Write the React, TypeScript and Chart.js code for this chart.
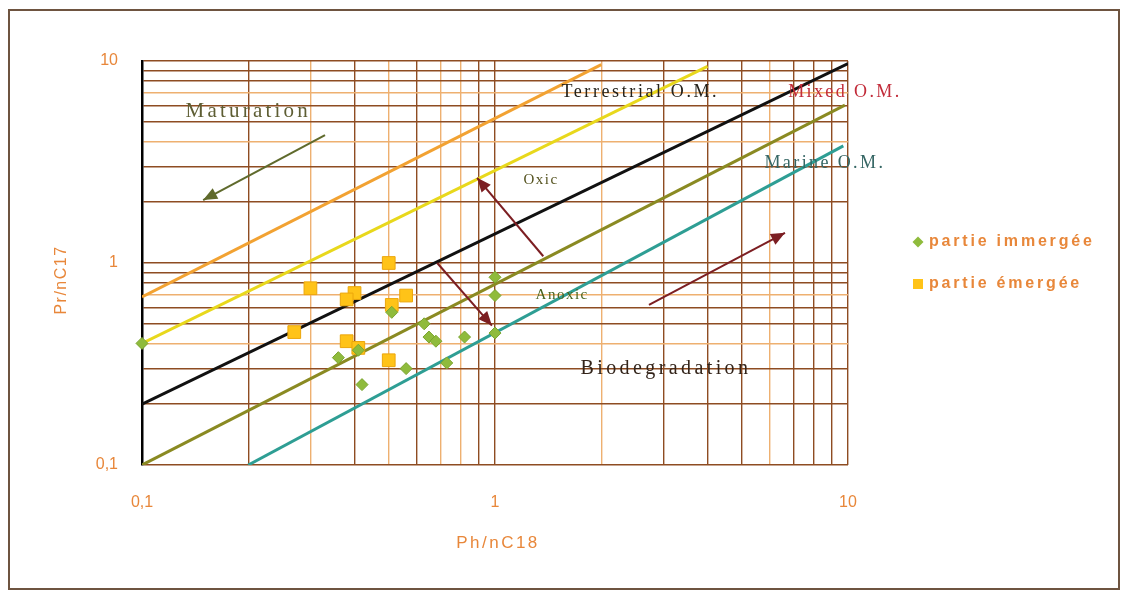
import React, { useEffect, useRef } from "react";
import { Chart, registerables } from "chart.js";

Chart.register(...registerables);

// ---------- data ----------
const immergeeX = [0.1, 0.36, 0.41, 0.42, 0.51, 0.56, 0.63, 0.65, 0.68, 0.73, 0.82, 1.0, 1.0, 1.0];
const immergeeY = [0.4, 0.34, 0.37, 0.25, 0.57, 0.3, 0.5, 0.43, 0.41, 0.32, 0.43, 0.85, 0.69, 0.45];

const emergeeX = [0.5, 0.3, 0.4, 0.38, 0.56, 0.51, 0.27, 0.38, 0.41, 0.5];
const emergeeY = [1.0, 0.75, 0.71, 0.66, 0.69, 0.62, 0.455, 0.41, 0.38, 0.33];

// reference lines (start, end)
const terrestrialX = [0.1, 2];
const terrestrialY = [0.68, 9.6];
const terrestrial2X = [0.1, 4];
const terrestrial2Y = [0.4, 9.4];
const mixedX = [0.1, 10];
const mixedY = [0.2, 9.7];
const anoxicX = [0.1, 9.8];
const anoxicY = [0.1, 6.05];
const marineX = [0.2, 9.7];
const marineY = [0.1, 3.8];

// arrows (tail, head)
const oxicArrowX = [1.37, 0.89];
const oxicArrowY = [1.08, 2.64];
const anoxicArrowX = [0.686, 0.98];
const anoxicArrowY = [1.0, 0.49];
const biodegArrowX = [2.73, 6.63];
const biodegArrowY = [0.62, 1.41];
const maturationArrowX = [0.33, 0.149];
const maturationArrowY = [4.3, 2.05];

// annotation texts
const noteLabels = ["Maturation", "Terrestrial O.M.", "Mixed O.M.", "Oxic", "Anoxic", "Marine O.M.", "Biodegradation"];
const noteX = [0.2, 2.58, 9.8, 1.35, 1.55, 8.6, 3.05];
const noteY = [5.6, 7.0, 7.0, 2.58, 0.69, 3.13, 0.3];

// ticks
const xTickValues = [0.1, 1, 10];
const xTickLabels = ["0,1", "1", "10"];
const yTickValues = [0.1, 1, 10];
const yTickLabels = ["0,1", "1", "10"];

const xTitle = "Ph/nC18";
const yTitle = "Pr/nC17";

// ---------- styles ----------
const noteStyles = [
  { color: "#5e5e34", size: 21, spacing: 3.2 },
  { color: "#24221c", size: 18, spacing: 2.6 },
  { color: "#c22c3a", size: 18, spacing: 2.4 },
  { color: "#54521e", size: 15, spacing: 1.5 },
  { color: "#46621c", size: 15, spacing: 1.5 },
  { color: "#356664", size: 18, spacing: 2.4 },
  { color: "#33241a", size: 20, spacing: 3.4 },
];

const ORANGE_TXT = "#e8873a";
const DARK_GRID = "#8e4c22";
const LIGHT_GRID = "#eeb070";

function gridValues(min: number, max: number): number[] {
  const out: number[] = [];
  for (let p = Math.log10(min); p < Math.log10(max) - 1e-9; p++) {
    const base = Math.pow(10, p);
    for (let m = 1; m <= 9; m++) out.push(+(m * base).toPrecision(3));
  }
  out.push(max);
  return out;
}

function mantissa(v: number): number {
  const p = Math.floor(Math.log10(v) + 1e-9);
  return Math.round(v / Math.pow(10, p));
}

function labelFor(values: number[], labels: string[], v: number): string {
  const i = values.findIndex((t) => Math.abs(t - v) / t < 1e-6);
  return i >= 0 ? labels[i] : "";
}

const toPts = (xs: number[], ys: number[]) => xs.map((x, i) => ({ x, y: ys[i] }));

const lineDs = (label: string, xs: number[], ys: number[], color: string, width = 3) => ({
  type: "line" as const,
  label,
  data: toPts(xs, ys),
  borderColor: color,
  backgroundColor: color,
  borderWidth: width,
  pointRadius: 0,
  showLine: true,
  fill: false,
  tension: 0,
  order: 2,
});

const arrowDs = (label: string, xs: number[], ys: number[], color: string) => ({
  ...lineDs(label, xs, ys, color, 2),
  arrowHead: true,
  order: 1,
});

// ---------- plugins ----------
const framePlugin = {
  id: "frame",
  beforeDraw(chart: any) {
    const { ctx, width, height } = chart;
    ctx.save();
    ctx.fillStyle = "#ffffff";
    ctx.fillRect(0, 0, width, height);
    ctx.strokeStyle = "#6e5440";
    ctx.lineWidth = 2;
    ctx.strokeRect(9, 10, 1110, 579);
    ctx.restore();
  },
};

const arrowPlugin = {
  id: "arrowHeads",
  afterDatasetsDraw(chart: any) {
    const ctx = chart.ctx;
    chart.data.datasets.forEach((ds: any, i: number) => {
      if (!ds.arrowHead) return;
      const pts = chart.getDatasetMeta(i).data;
      const a = pts[pts.length - 2];
      const b = pts[pts.length - 1];
      const ang = Math.atan2(b.y - a.y, b.x - a.x);
      const L = 14;
      const W = 6;
      ctx.save();
      ctx.fillStyle = ds.borderColor;
      ctx.beginPath();
      ctx.moveTo(b.x, b.y);
      ctx.lineTo(b.x - L * Math.cos(ang) + W * Math.sin(ang), b.y - L * Math.sin(ang) - W * Math.cos(ang));
      ctx.lineTo(b.x - L * Math.cos(ang) - W * Math.sin(ang), b.y - L * Math.sin(ang) + W * Math.cos(ang));
      ctx.closePath();
      ctx.fill();
      ctx.restore();
    });
  },
};

const notesPlugin = {
  id: "notes",
  afterDatasetsDraw(chart: any) {
    const ctx = chart.ctx;
    const xs = chart.scales.x;
    const ys = chart.scales.y;
    ctx.save();
    ctx.textAlign = "center";
    ctx.textBaseline = "middle";
    noteLabels.forEach((t, i) => {
      const st = noteStyles[i];
      ctx.font = `${st.size}px 'Liberation Serif', 'Times New Roman', serif`;
      (ctx as any).letterSpacing = `${st.spacing}px`;
      ctx.fillStyle = st.color;
      ctx.fillText(t, xs.getPixelForValue(noteX[i]), ys.getPixelForValue(noteY[i]));
    });
    ctx.restore();
  },
};

const titlesPlugin = {
  id: "titles",
  afterDraw(chart: any) {
    const ctx = chart.ctx;
    const { left, right, top, bottom } = chart.chartArea;
    ctx.save();
    ctx.fillStyle = ORANGE_TXT;
    ctx.textAlign = "center";
    ctx.textBaseline = "middle";
    ctx.font = "17px 'Liberation Sans', Arial, sans-serif";
    (ctx as any).letterSpacing = "2.5px";
    ctx.fillText(xTitle, (left + right) / 2 + 3, bottom + 78);
    ctx.translate(62, (top + bottom) / 2 + 17);
    ctx.rotate(-Math.PI / 2);
    ctx.font = "16px 'Liberation Sans', Arial, sans-serif";
    (ctx as any).letterSpacing = "1.5px";
    ctx.fillText(yTitle, 0, 0);
    ctx.restore();
  },
};

const legendPlugin = {
  id: "customLegend",
  afterDraw(chart: any) {
    const ctx = chart.ctx;
    const items = chart.data.datasets.filter((d: any) => d.inLegend);
    ctx.save();
    ctx.textAlign = "left";
    ctx.textBaseline = "middle";
    ctx.font = "bold 16px 'Liberation Sans', Arial, sans-serif";
    (ctx as any).letterSpacing = "2.8px";
    items.forEach((d: any, i: number) => {
      const x = 918;
      const y = 242 + i * 42;
      ctx.fillStyle = d.backgroundColor;
      ctx.beginPath();
      if (d.pointStyle === "rectRot") {
        ctx.moveTo(x, y - 5.5);
        ctx.lineTo(x + 5.5, y);
        ctx.lineTo(x, y + 5.5);
        ctx.lineTo(x - 5.5, y);
        ctx.closePath();
      } else {
        ctx.rect(x - 5, y - 5, 10, 10);
      }
      ctx.fill();
      ctx.fillStyle = ORANGE_TXT;
      ctx.fillText(d.label, x + 11, y);
    });
    ctx.restore();
  },
};

export default function App() {
  const ref = useRef<HTMLCanvasElement | null>(null);

  useEffect(() => {
    document.body.style.margin = "0";
    const canvas = ref.current;
    if (!canvas) return;

    const xGrid = gridValues(0.1, 10);
    const yGrid = gridValues(0.1, 10);
    const xLight = (v: number) => (v < 1 ? [3, 5, 7, 8].includes(mantissa(v)) : [2, 6].includes(mantissa(v)) && v < 10);
    const yLight = (v: number) => [4, 7].includes(mantissa(v)) && v < 10 && v > 0.1;

    const chart = new Chart(canvas, {
      type: "scatter",
      data: {
        datasets: [
          {
            label: "partie immergée",
            data: toPts(immergeeX, immergeeY),
            pointStyle: "rectRot",
            pointRadius: 6,
            backgroundColor: "#8fbb3c",
            borderColor: "#7ba52f",
            borderWidth: 1,
            order: 0,
            clip: false,
            inLegend: true,
          } as any,
          {
            label: "partie émergée",
            data: toPts(emergeeX, emergeeY),
            pointStyle: "rect",
            pointRadius: 9,
            backgroundColor: "#ffc318",
            borderColor: "#eca60c",
            borderWidth: 1,
            order: 0,
            clip: false,
            inLegend: true,
          } as any,
          lineDs("Terrestrial O.M.", terrestrialX, terrestrialY, "#f2a232"),
          lineDs("Terrestrial O.M. (2)", terrestrial2X, terrestrial2Y, "#e8d81c"),
          lineDs("Mixed O.M.", mixedX, mixedY, "#111111"),
          lineDs("Anoxic", anoxicX, anoxicY, "#8a8a22"),
          lineDs("Marine O.M.", marineX, marineY, "#2e9e94"),
          arrowDs("Oxic", oxicArrowX, oxicArrowY, "#7c1e22"),
          arrowDs("Anoxic arrow", anoxicArrowX, anoxicArrowY, "#7c1e22"),
          arrowDs("Biodegradation", biodegArrowX, biodegArrowY, "#7c1e22"),
          arrowDs("Maturation", maturationArrowX, maturationArrowY, "#5f6a2c"),
        ] as any,
      },
      options: {
        responsive: false,
        animation: false,
        events: [],
        layout: { padding: { top: 61, right: 1126 - 848, bottom: 0, left: 0 } },
        plugins: {
          legend: { display: false },
          tooltip: { enabled: false },
        },
        scales: {
          x: {
            type: "logarithmic",
            min: 0.1,
            max: 10,
            position: "bottom",
            afterBuildTicks: (s: any) => {
              s.ticks = xGrid.map((v) => ({ value: v }));
            },
            afterFit: (s: any) => {
              s.height = 128;
            },
            ticks: {
              autoSkip: false,
              maxRotation: 0,
              padding: 28,
              color: ORANGE_TXT,
              font: { size: 16, family: "'Liberation Sans', Arial, sans-serif" },
              callback: (v: any) => labelFor(xTickValues, xTickLabels, Number(v)),
            },
            grid: {
              drawTicks: false,
              color: (c: any) => (xLight(c.tick.value) ? LIGHT_GRID : DARK_GRID),
              lineWidth: 1.4,
            },
            border: { display: false },
          },
          y: {
            type: "logarithmic",
            min: 0.1,
            max: 10,
            position: "left",
            afterBuildTicks: (s: any) => {
              s.ticks = yGrid.map((v) => ({ value: v }));
            },
            afterFit: (s: any) => {
              s.width = 142;
            },
            ticks: {
              autoSkip: false,
              padding: 24,
              color: ORANGE_TXT,
              font: { size: 16, family: "'Liberation Sans', Arial, sans-serif" },
              callback: (v: any) => labelFor(yTickValues, yTickLabels, Number(v)),
            },
            grid: {
              drawTicks: false,
              color: (c: any) => (yLight(c.tick.value) ? LIGHT_GRID : DARK_GRID),
              lineWidth: 1.4,
            },
            border: { display: true, color: "#000000", width: 2.5 },
          },
        },
      } as any,
      plugins: [framePlugin, arrowPlugin, notesPlugin, titlesPlugin, legendPlugin],
    });

    return () => chart.destroy();
  }, []);

  return (
    <div style={{ width: 1126, height: 593, position: "relative" }}>
      <canvas ref={ref} width={1126} height={593} style={{ display: "block" }} />
    </div>
  );
}
